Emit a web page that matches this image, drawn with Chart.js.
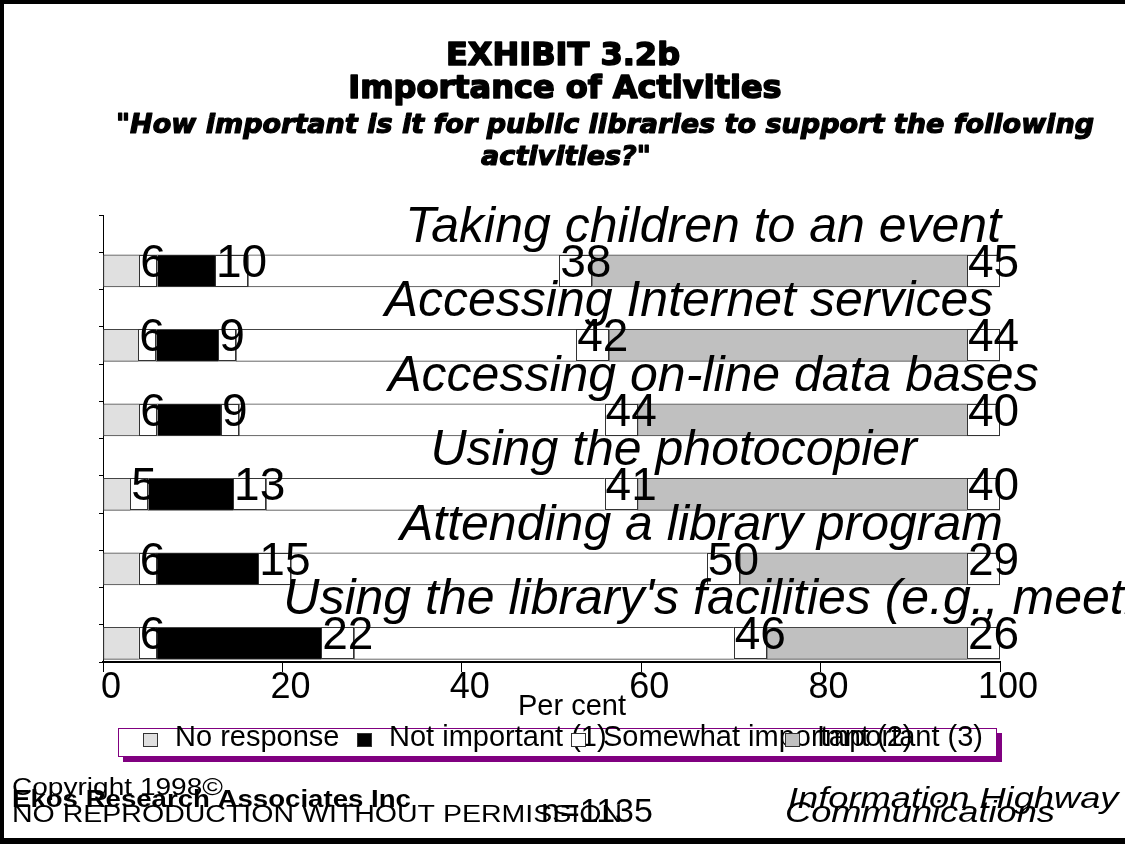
<!DOCTYPE html>
<html>
<head>
<meta charset="utf-8">
<title>Importance of Activities</title>
<script src="https://cdn.jsdelivr.net/npm/chart.js@4.4.1/dist/chart.umd.min.js"></script>
<style>
  html, body { margin: 0; padding: 0; background: #ffffff; overflow: hidden; }
  #wrap { width: 1125px; height: 844px; position: relative; overflow: hidden; }
  canvas { display: block; }
</style>
</head>
<body>
<div id="wrap"><canvas id="chart" width="1125" height="844"></canvas></div>
<script>
// Survey results: share of respondents (%) per importance rating
const categories = [
  "Taking children to an event",
  "Accessing Internet services",
  "Accessing on-line data bases",
  "Using the photocopier",
  "Attending a library program",
  "Using the library's facilities (e.g., meeting rooms)"
];
const noResponse        = [6, 6, 6, 5, 6, 6];
const notImportant      = [10, 9, 9, 13, 15, 22];
const somewhatImportant = [38, 42, 44, 41, 50, 46];
const important         = [45, 44, 40, 40, 29, 26];
const seriesNames = ["No response", "Not important (1)", "Somewhat important (2)", "Important (3)"];
const seriesColors = ["#e0e0e0", "#000000", "#ffffff", "#c0c0c0"];
const xTickStep = 20;

const series = [noResponse, notImportant, somewhatImportant, important];
// Each row is drawn as a 100% stack of its answers
const rowTotals = categories.map((_, i) => series.reduce((s, arr) => s + arr[i], 0));

// Every activity gets two rows on the axis: one for its caption, one for its bar
const slotLabels = [];
categories.forEach(c => { slotLabels.push(""); slotLabels.push(c); });
const toSlots = (arr, f) => { const out = []; arr.forEach((v, i) => { out.push(null); out.push(f(v, i)); }); return out; };

const datasets = series.map((arr, k) => ({
  label: seriesNames[k],
  data: toSlots(arr, (v, i) => v / rowTotals[i] * 100),
  rawValues: toSlots(arr, v => v),
  backgroundColor: seriesColors[k],
  borderColor: "#444444",
  borderWidth: 1,
  borderSkipped: false,
  barThickness: 32
}));

const FONT = '"Liberation Sans", Arial, sans-serif';

// White page with the heavy black frame
const pageFrame = {
  id: "pageFrame",
  beforeDraw(chart) {
    const ctx = chart.ctx;
    ctx.save();
    ctx.fillStyle = "#ffffff";
    ctx.fillRect(0, 0, chart.width, chart.height);
    ctx.restore();
  },
  afterDraw(chart) {
    const ctx = chart.ctx;
    ctx.save();
    ctx.fillStyle = "#000000";
    ctx.fillRect(0, 0, 4, chart.height);
    ctx.fillRect(0, 0, chart.width, 4);
    ctx.fillRect(0, chart.height - 6, chart.width, 6);
    ctx.restore();
  }
};

// Titles and subtitle, in a heavy face
const headings = {
  id: "headings",
  afterDraw(chart) {
    const ctx = chart.ctx;
    const heavy = (txt, x, y) => { ctx.fillText(txt, x, y); ctx.strokeText(txt, x, y); };
    ctx.save();
    ctx.fillStyle = "#000";
    ctx.strokeStyle = "#000";
    ctx.lineJoin = "round";
    ctx.textBaseline = "alphabetic";
    ctx.textAlign = "center";
    ctx.lineWidth = 1.6;
    ctx.font = 'bold 32px "DejaVu Sans", sans-serif';
    heavy("EXHIBIT 3.2b", 563, 65);
    heavy("Importance of Activities", 565, 98);
    ctx.lineWidth = 1.2;
    ctx.font = 'italic bold 26px "DejaVu Sans", sans-serif';
    ctx.save();
    ctx.translate(605, 133);
    ctx.scale(1.04, 1);
    heavy('"How important is it for public libraries to support the following', 0, 0);
    ctx.restore();
    ctx.save();
    ctx.translate(566, 165);
    ctx.scale(1.04, 1);
    heavy('activities?"', 0, 0);
    ctx.restore();
    ctx.restore();
  }
};

// Boxed value labels at the end of each segment
const valueBoxes = {
  id: "valueBoxes",
  afterDatasetsDraw(chart) {
    const ctx = chart.ctx;
    ctx.save();
    chart.data.datasets.forEach((ds, di) => {
      const meta = chart.getDatasetMeta(di);
      meta.data.forEach((bar, j) => {
        const raw = ds.rawValues[j];
        if (raw == null) return;
        const txt = String(raw);
        const w = 3 + 15 * txt.length;
        const h = bar.height;
        const top = bar.y - h / 2;
        const left = bar.x - w;
        ctx.fillStyle = "#ffffff";
        ctx.fillRect(left, top, w, h);
        ctx.strokeStyle = "#333333";
        ctx.lineWidth = 1;
        ctx.strokeRect(Math.round(left) + 0.5, Math.round(top) + 0.5, w - 1, h - 1);
        ctx.fillStyle = "#000000";
        ctx.font = "46px " + FONT;
        ctx.textAlign = "left";
        ctx.textBaseline = "alphabetic";
        ctx.fillText(txt, left + 1, top + h - 10);
      });
    });
    ctx.restore();
  }
};

// Activity captions above their bars, plus the axis title
const captions = {
  id: "captions",
  afterDatasetsDraw(chart, args, opts) {
    const ctx = chart.ctx;
    const xs = chart.scales.x, ys = chart.scales.y;
    ctx.save();
    ctx.fillStyle = "#000";
    ctx.font = "italic 50px " + FONT;
    ctx.textAlign = "left";
    ctx.textBaseline = "alphabetic";
    categories.forEach((c, i) => {
      const barCenter = ys.getPixelForValue(2 * i + 1);
      const y = barCenter - 16 - 13;
      ctx.fillText(c, xs.getPixelForValue(opts.start[i]), y);
    });
    ctx.font = "29px " + FONT;
    ctx.fillText("Per cent", 518, 715);
    ctx.restore();
  }
};

// Legend box with purple drop shadow
const legendBox = {
  id: "legendBox",
  afterDraw(chart) {
    const ctx = chart.ctx;
    const L = 118, T = 728, W = 879, H = 29;
    ctx.save();
    ctx.fillStyle = "#800080";
    ctx.fillRect(L + 5, T + 5, W, H);
    ctx.fillStyle = "#ffffff";
    ctx.fillRect(L, T, W, H);
    ctx.strokeStyle = "#800080";
    ctx.lineWidth = 1;
    ctx.strokeRect(L + 0.5, T + 0.5, W - 1, H - 1);
    chart.data.datasets.forEach((ds, k) => {
      const mx = 143 + 214 * k;
      ctx.fillStyle = ds.backgroundColor;
      ctx.fillRect(mx, 733, 15, 14);
      ctx.strokeStyle = "#333333";
      ctx.strokeRect(mx + 0.5, 733.5, 14, 13);
      ctx.fillStyle = "#000";
      ctx.font = "29px " + FONT;
      ctx.textAlign = "left";
      ctx.textBaseline = "alphabetic";
      ctx.fillText(ds.label, mx + 32, 746);
    });
    ctx.restore();
  }
};

// Footer notes
const footer = {
  id: "footer",
  afterDraw(chart) {
    const ctx = chart.ctx;
    const stretched = (txt, font, x, y, sx) => {
      ctx.save();
      ctx.font = font;
      ctx.translate(x, y);
      ctx.scale(sx, 1);
      ctx.fillText(txt, 0, 0);
      ctx.restore();
    };
    ctx.save();
    ctx.fillStyle = "#000";
    ctx.textAlign = "left";
    ctx.textBaseline = "alphabetic";
    stretched("Copyright 1998\u00A9", "23px " + FONT, 12, 795, 1.22);
    stretched("Ekos Research Associates Inc", "bold 23px " + FONT, 12, 807, 1.2);
    stretched("NO REPRODUCTION WITHOUT PERMISSION", "23px " + FONT, 12, 822, 1.24);
    ctx.font = "34px " + FONT;
    ctx.fillText("n=1135", 541, 822);
    stretched("Information Highway", "italic 29px " + FONT, 788, 808, 1.25);
    stretched("Communications", "italic 29px " + FONT, 785, 822, 1.25);
    ctx.restore();
  }
};

new Chart(document.getElementById("chart"), {
  type: "bar",
  data: { labels: slotLabels, datasets },
  options: {
    indexAxis: "y",
    responsive: false,
    animation: false,
    layout: { padding: { left: 97, right: 125, top: 215, bottom: 142 } },
    plugins: {
      legend: { display: false },
      tooltip: { enabled: false },
      captions: { start: [33.7, 31.4, 31.8, 36.5, 33.1, 20.1] }
    },
    scales: {
      x: {
        stacked: true,
        min: 0,
        max: 100,
        ticks: {
          stepSize: xTickStep,
          color: "#000",
          font: { family: FONT, size: 36 },
          padding: -6,
          labelOffset: 8,
          maxRotation: 0,
          autoSkip: false
        },
        grid: { drawOnChartArea: false, tickLength: 10, color: "#000" },
        border: { color: "#000", width: 2 },
        afterFit(s) { s.height = 40; }
      },
      y: {
        stacked: true,
        ticks: { display: false },
        grid: { drawOnChartArea: false, tickLength: 4, color: "#000" },
        border: { color: "#000", width: 1 },
        afterFit(s) { s.width = 6; }
      }
    }
  },
  plugins: [pageFrame, headings, valueBoxes, captions, legendBox, footer]
});
</script>
</body>
</html>
